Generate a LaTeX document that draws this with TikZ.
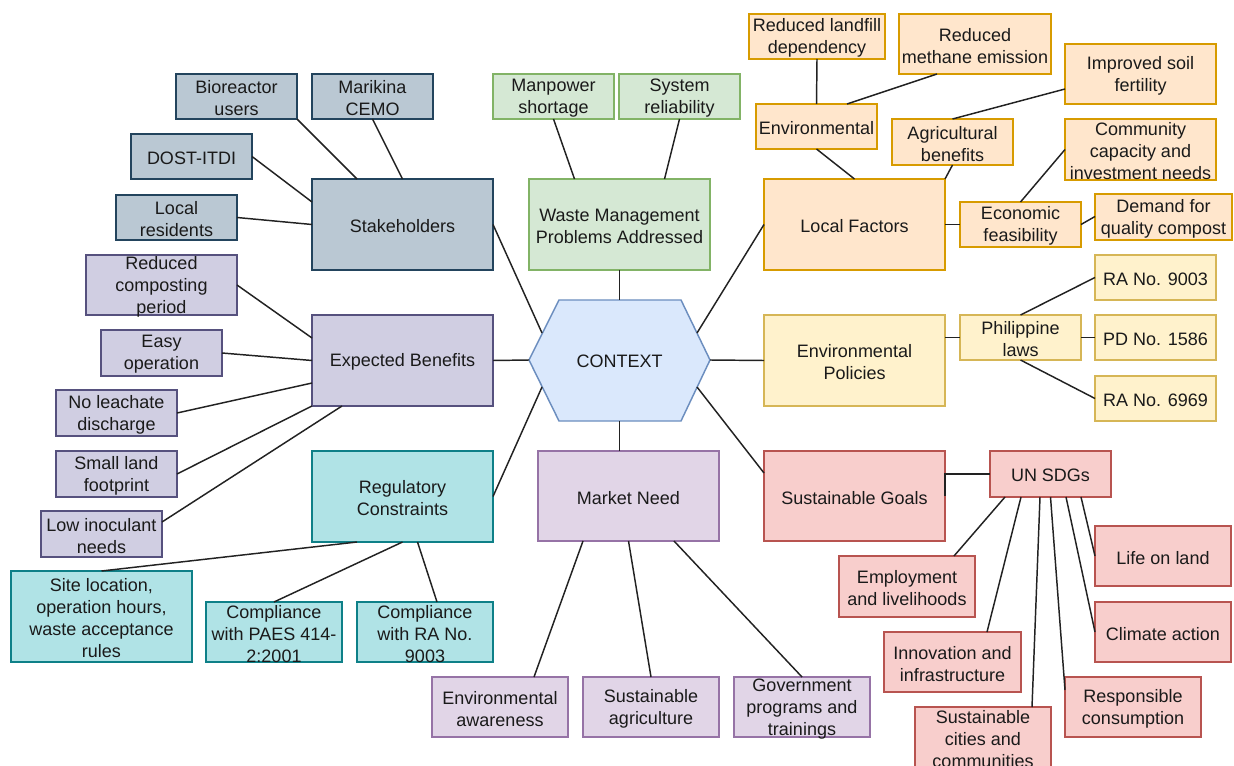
\documentclass[tikz,border=0pt]{standalone}
\usepackage{fontspec}
\setmainfont{Liberation Sans}
\usetikzlibrary{calc}

\definecolor{slateF}{HTML}{BAC8D3}\definecolor{slateD}{HTML}{23445D}
\definecolor{greenF}{HTML}{D5E8D4}\definecolor{greenD}{HTML}{82B366}
\definecolor{orangeF}{HTML}{FFE6CC}\definecolor{orangeD}{HTML}{D79B00}
\definecolor{yellowF}{HTML}{FFF2CC}\definecolor{yellowD}{HTML}{D6B656}
\definecolor{redF}{HTML}{F8CECC}\definecolor{redD}{HTML}{B85450}
\definecolor{lavF}{HTML}{D0CEE2}\definecolor{lavD}{HTML}{56517E}
\definecolor{purpF}{HTML}{E1D5E7}\definecolor{purpD}{HTML}{9673A6}
\definecolor{tealF}{HTML}{B0E3E6}\definecolor{tealD}{HTML}{0E8088}
\definecolor{blueF}{HTML}{DAE8FC}\definecolor{blueD}{HTML}{6C8EBF}
\definecolor{txt}{HTML}{1A1A1A}
\definecolor{lnk}{HTML}{222222}

\tikzset{
  bx/.style={draw, line width=1.1pt, inner sep=0pt, outer sep=0pt},
  lbl/.style={font=\fontsize{13.5}{16.5}\selectfont, align=center, text=txt, inner sep=0pt},
  link/.style={line width=1.1pt, draw=lnk},
  slate/.style={bx, fill=slateF, draw=slateD},
  green/.style={bx, fill=greenF, draw=greenD},
  orange/.style={bx, fill=orangeF, draw=orangeD},
  yellow/.style={bx, fill=yellowF, draw=yellowD},
  rose/.style={bx, fill=redF, draw=redD},
  lav/.style={bx, fill=lavF, draw=lavD},
  purp/.style={bx, fill=purpF, draw=purpD},
  teal/.style={bx, fill=tealF, draw=tealD},
}

% \mbx{name}{x1}{y1}{x2}{y2}{style}{text}
\newcommand{\mbx}[7]{%
  \node[#6, minimum width={(#4-#2)*0.75pt}, minimum height={(#5-#3)*0.75pt},
        label={[lbl, yshift=-1.2pt]center:{#7}}] (#1) at ({(#2+#4)/2},{(#3+#5)/2}) {};}

\begin{document}
\begin{tikzpicture}[x=0.75pt,y=-0.75pt]
\useasboundingbox (0,0) rectangle (1234,766);
\clip (0,0) rectangle (1234,766);
\fill[white] (0,0) rectangle (1234,766);

% central hexagon
\coordinate (hA) at (529,360);
\coordinate (hB) at (559,300);
\coordinate (hC) at (681,300);
\coordinate (hD) at (710,360);
\coordinate (hE) at (681,421);
\coordinate (hF) at (559,421);
\draw[line width=1.1pt, fill=blueF, draw=blueD] (hA) -- (hB) -- (hC) -- (hD) -- (hE) -- (hF) -- cycle;
\node[lbl] (ctx) at (619.5,361) {CONTEXT};
\coordinate (hul) at (542,333);
\coordinate (hur) at (697,333);
\coordinate (hll) at (542,387);
\coordinate (hlr) at (697,387);
\coordinate (htop) at (619.5,300);
\coordinate (hbot) at (619.5,421);

% stakeholders
\mbx{sh}{312}{179}{493}{270}{slate}{Stakeholders}
\mbx{bio}{176}{74}{297}{119}{slate}{Bioreactor\\users}
\mbx{mar}{312}{74}{433}{119}{slate}{Marikina\\CEMO}
\mbx{dost}{131}{134}{252}{179}{slate}{DOST-ITDI}
\mbx{loc}{116}{195}{237}{240}{slate}{Local\\residents}

% waste management problems
\mbx{wm}{529}{179}{710}{270}{green}{Waste Management\\Problems Addressed}
\mbx{man}{493}{74}{614}{119}{green}{Manpower\\shortage}
\mbx{sys}{619}{74}{740}{119}{green}{System\\reliability}

% local factors
\mbx{lf}{764}{179}{945}{270}{orange}{Local Factors}
\mbx{lan}{749}{14}{885}{59}{orange}{Reduced landfill\\dependency}
\mbx{met}{899}{14}{1051}{74}{orange}{Reduced\\methane emission}
\mbx{soil}{1065}{44}{1216}{104}{orange}{Improved soil\\fertility}
\mbx{env}{756}{104}{877}{149}{orange}{Environmental}
\mbx{agr}{892}{119}{1013}{165}{orange}{Agricultural\\benefits}
\mbx{com}{1065}{119}{1216}{180}{orange}{Community\\capacity and\\investment needs}
\mbx{eco}{960}{202}{1081}{247}{orange}{Economic\\feasibility}
\mbx{dem}{1095}{194}{1232}{240}{orange}{Demand for\\quality compost}

% environmental policies
\mbx{ep}{764}{315}{945}{406}{yellow}{Environmental\\Policies}
\mbx{phil}{960}{315}{1081}{360}{yellow}{Philippine\\laws}
\mbx{raA}{1095}{255}{1216}{300}{yellow}{RA No. 9003}
\mbx{pd}{1095}{315}{1216}{360}{yellow}{PD No. 1586}
\mbx{raB}{1095}{376}{1216}{421}{yellow}{RA No. 6969}

% expected benefits
\mbx{eb}{312}{315}{493}{406}{lav}{Expected Benefits}
\mbx{rcp}{86}{255}{237}{315}{lav}{Reduced\\composting\\period}
\mbx{easy}{101}{330}{222}{376}{lav}{Easy\\operation}
\mbx{lea}{56}{390}{177}{436}{lav}{No leachate\\discharge}
\mbx{sml}{56}{451}{177}{497}{lav}{Small land\\footprint}
\mbx{low}{41}{511}{162}{557}{lav}{Low inoculant\\needs}

% regulatory constraints
\mbx{rc}{312}{451}{493}{542}{teal}{Regulatory\\Constraints}
\mbx{site}{11}{571}{192}{662}{teal}{Site location,\\operation hours,\\waste acceptance\\rules}
\mbx{paes}{206}{602}{342}{662}{teal}{Compliance\\with PAES 414-\\2:2001}
\mbx{cra}{357}{602}{493}{662}{teal}{Compliance\\with RA No.\\9003}

% market need
\mbx{mn}{538}{451}{719}{541}{purp}{Market Need}
\mbx{ea}{432}{677}{568}{737}{purp}{Environmental\\awareness}
\mbx{sa}{583}{677}{719}{737}{purp}{Sustainable\\agriculture}
\mbx{gov}{734}{677}{870}{737}{purp}{Government\\programs and\\trainings}

% sustainable goals
\mbx{sg}{764}{451}{945}{541}{rose}{Sustainable Goals}
\mbx{un}{990}{451}{1111}{497}{rose}{UN SDGs}
\mbx{emp}{839}{556}{975}{617}{rose}{Employment\\and livelihoods}
\mbx{inn}{884}{632}{1021}{692}{rose}{Innovation and\\infrastructure}
\mbx{city}{915}{707}{1051}{767}{rose}{Sustainable\\cities and\\communities}
\mbx{resp}{1065}{677}{1201}{737}{rose}{Responsible\\consumption}
\mbx{clim}{1095}{602}{1231}{662}{rose}{Climate action}
\mbx{life}{1095}{526}{1231}{586}{rose}{Life on land}

% connectors to the centre
\draw[link] (wm.south) -- (htop);
\draw[link] (sh.east) -- (hul);
\draw[link] (eb.east) -- (hA);
\draw[link] (rc.east) -- (hll);
\draw[link] (lf.west) -- (hur);
\draw[link] (hD) -- (ep.west);
\draw[link] (hlr) -- ([shift={(0,-23)}]sg.west);
\draw[link] (hbot) -- (hbot |- mn.north);

% stakeholders branch
\draw[link] (bio.south east) -- ([shift={(45,0)}]sh.north west);
\draw[link] (mar.south) -- (sh.north);
\draw[link] (dost.east) -- ([shift={(0,-22.5)}]sh.west);
\draw[link] (loc.east) -- (sh.west);

% waste management branch
\draw[link] (man.south) -- ([shift={(45.5,0)}]wm.north west);
\draw[link] (sys.south) -- ([shift={(-45.5,0)}]wm.north east);

% local factors branch
\draw[link] (lan.south) -- (env.north);
\draw[link] ([shift={(38,0)}]met.south west) -- ([shift={(30.5,0)}]env.north);
\draw[link] ([shift={(0,15)}]soil.west) -- (agr.north);
\draw[link] (env.south) -- (lf.north);
\draw[link] (agr.south) -- (lf.north east);
\draw[link] (com.west) -- (eco.north);
\draw[link] (lf.east) -- (eco.west);
\draw[link] (eco.east) -- ([shift={(0,-0.5)}]dem.west);

% environmental policies branch
\draw[link] (phil.west -| ep.east) -- (phil.west);
\draw[link] (phil.north) -- (raA.west);
\draw[link] (phil.east) -- (pd.west);
\draw[link] (phil.south) -- (raB.west);

% expected benefits branch
\draw[link] (rcp.east) -- ([shift={(0,-22.5)}]eb.west);
\draw[link] (easy.east) -- (eb.west);
\draw[link] (lea.east) -- ([shift={(0,22.5)}]eb.west);
\draw[link] (sml.east) -- (eb.south west);
\draw[link] ([shift={(0,-12)}]low.east) -- ([shift={(30,0)}]eb.south west);

% regulatory constraints branch
\draw[link] ([shift={(45,0)}]rc.south west) -- (site.north);
\draw[link] (rc.south) -- (paes.north);
\draw[link] ([shift={(15,0)}]rc.south) -- ([shift={(12,0)}]cra.north);

% market need branch
\draw[link] ([shift={(45,0)}]mn.south west) -- ([shift={(-34,0)}]ea.north east);
\draw[link] (mn.south) -- (sa.north);
\draw[link] ([shift={(-45,0)}]mn.south east) -- (gov.north);

% sustainable goals branch
\draw[link] (sg.east) |- (un.west);
\draw[link] ([shift={(15,0)}]un.south west) -- ([shift={(-21,0)}]emp.north east);
\draw[link] ([shift={(31,0)}]un.south west) -- ([shift={(-34,0)}]inn.north east);
\draw[link] ([shift={(50,0)}]un.south west) -- ([shift={(-19,0)}]city.north east);
\draw[link] (un.south) -- ([shift={(0,-17)}]resp.west);
\draw[link] ([shift={(76,0)}]un.south west) -- (clim.west);
\draw[link] ([shift={(-30,0)}]un.south east) -- (life.west);
\end{tikzpicture}
\end{document}
